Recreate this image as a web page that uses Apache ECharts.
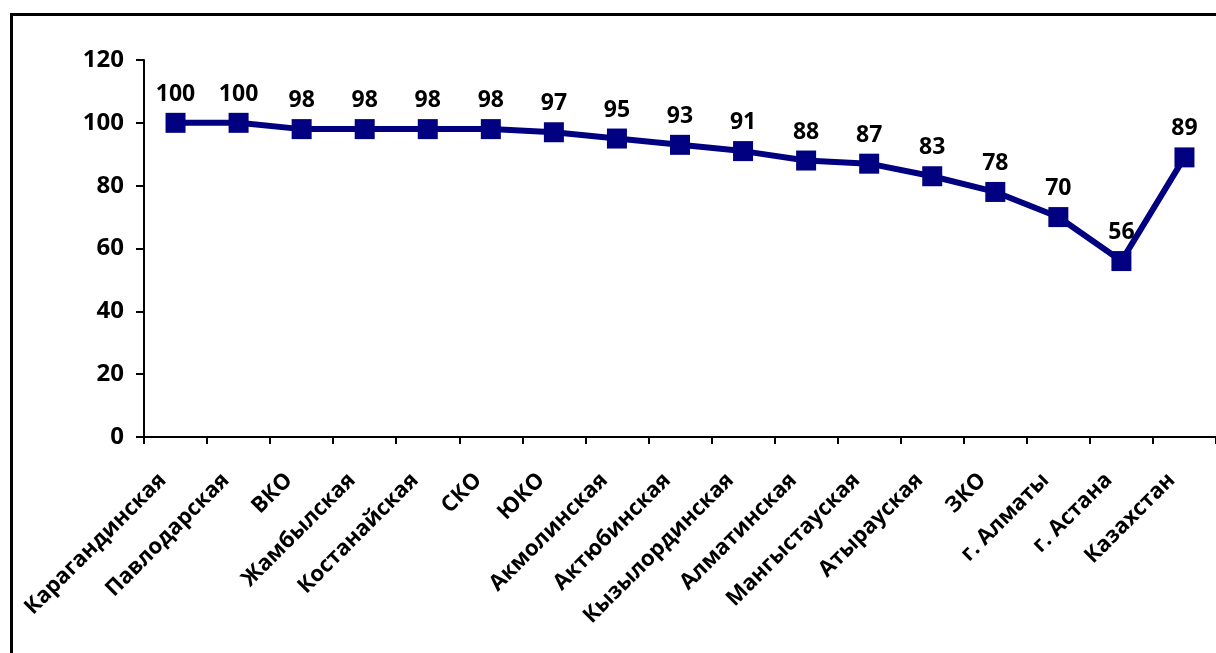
<!DOCTYPE html>
<html>
<head>
<meta charset="utf-8">
<script src="https://cdn.jsdelivr.net/npm/echarts@6/dist/echarts.min.js"></script>
<style>
  html, body { margin: 0; padding: 0; background: #ffffff; }
  #chart { width: 1216px; height: 653px; }
</style>
</head>
<body>
<div id="chart"></div>
<script>
// Regions of Kazakhstan and their index values (%)
const regions = [
  'Карагандинская', 'Павлодарская', 'ВКО', 'Жамбылская', 'Костанайская',
  'СКО', 'ЮКО', 'Акмолинская', 'Актюбинская', 'Кызылординская',
  'Алматинская', 'Мангыстауская', 'Атырауская', 'ЗКО', 'г. Алматы',
  'г. Астана', 'Казахстан'
];
const values = [100, 100, 98, 98, 98, 98, 97, 95, 93, 91, 88, 87, 83, 78, 70, 56, 89];
const yTicks = [0, 20, 40, 60, 80, 100, 120];

const FONT = '"Open Sans", "Noto Sans", sans-serif';
const chart = echarts.init(document.getElementById('chart'), null, { renderer: 'canvas' });

chart.setOption({
  animation: false,
  backgroundColor: '#ffffff',
  graphic: [{
    type: 'rect',
    shape: { x: 11.5, y: 14.5, width: 1230, height: 700 },
    style: { fill: 'none', stroke: '#000000', lineWidth: 3 },
    silent: true
  }],
  grid: { left: 144, right: -2, top: 60, bottom: 216, containLabel: false },
  xAxis: {
    type: 'category',
    data: regions,
    boundaryGap: true,
    axisLine: { lineStyle: { color: '#000000', width: 2 } },
    axisTick: { show: true, length: 7, alignWithLabel: false, lineStyle: { color: '#000000', width: 2 } },
    axisLabel: {
      interval: 0,
      rotate: 45,
      margin: 27,
      padding: [0, 18, 0, 0],
      color: '#000000',
      fontFamily: FONT,
      fontWeight: 'bold',
      fontSize: 22
    },
    splitLine: { show: false }
  },
  yAxis: {
    type: 'value',
    min: yTicks[0],
    max: yTicks[yTicks.length - 1],
    interval: 20,
    axisLine: { show: true, lineStyle: { color: '#000000', width: 2 } },
    axisTick: { show: true, length: 8, lineStyle: { color: '#000000', width: 2 } },
    axisLabel: {
      margin: 20,
      color: '#000000',
      fontFamily: FONT,
      fontWeight: 'bold',
      fontSize: 24
    },
    splitLine: { show: false }
  },
  series: [{
    type: 'line',
    data: values,
    symbol: 'rect',
    symbolSize: 20,
    lineStyle: { color: '#000080', width: 6 },
    itemStyle: { color: '#000080' },
    label: {
      show: true,
      position: 'top',
      distance: 7,
      color: '#000000',
      fontFamily: FONT,
      fontWeight: 'bold',
      fontSize: 23
    }
  }]
});
</script>
</body>
</html>
